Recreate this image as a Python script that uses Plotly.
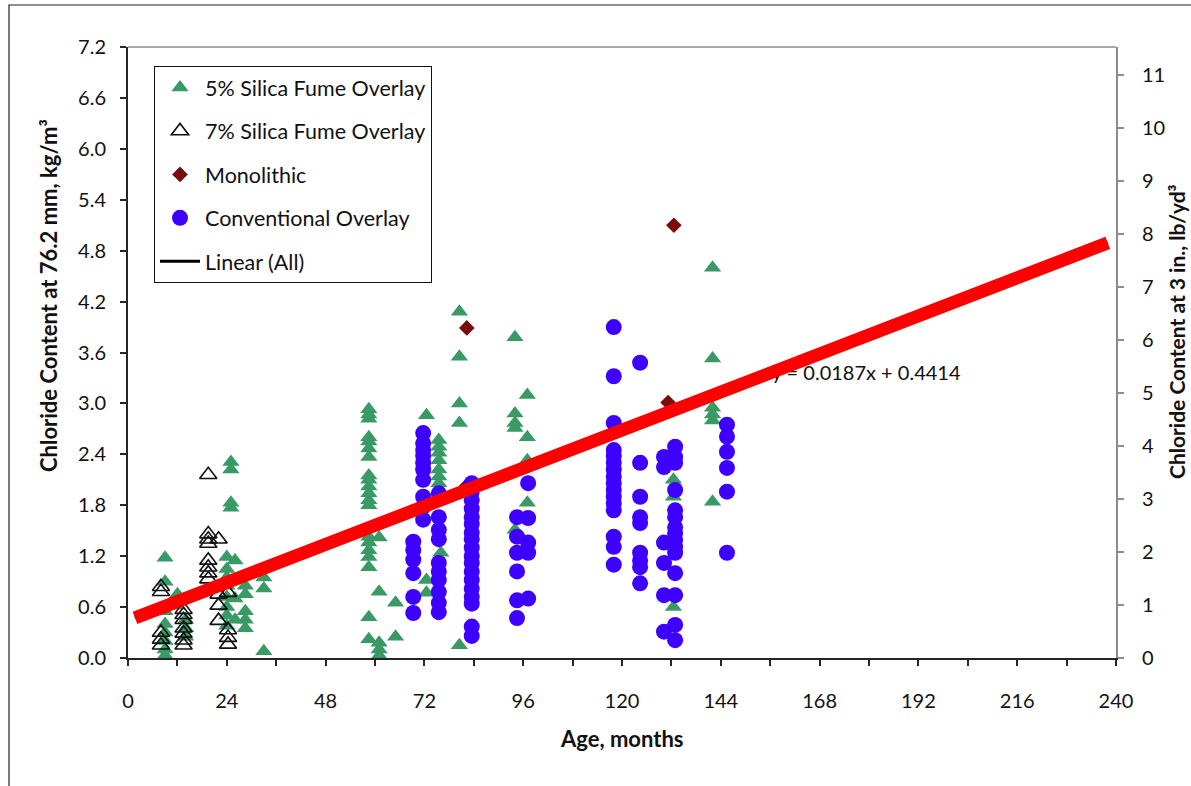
import plotly.graph_objects as go

# ---------------- data ----------------
sf5_age = [9, 9, 9, 9, 9, 9, 9, 9, 9,
           12, 12,
           14, 14, 14,
           24, 24, 24, 24, 24, 24, 24, 24,
           25, 25, 25, 25,
           26, 26, 26,
           28.5, 28.5, 28.5, 28.5, 28.5,
           33, 33, 33,
           58.5, 58.5, 58.5, 58.5, 58.5, 58.5, 58.5, 58.5, 58.5, 58.5,
           58.5, 58.5, 58.5, 58.5, 58.5, 58.5, 58.5, 58.5, 58.5, 58.5,
           61, 61, 61, 61, 61, 61,
           65, 65,
           72.5, 72.5, 72.5,
           75.5, 75.5, 75.5, 75.5, 75.5, 75.5, 75.5,
           76,
           80.5, 80.5, 80.5, 80.5, 80.5,
           94, 94, 94, 94, 94,
           97, 97, 97, 97,
           132.5, 132.5, 132.5,
           142, 142, 142, 142, 142, 142]
sf5_cl = [1.18, 0.90, 0.55, 0.40, 0.30, 0.20, 0.10, 0.03, 0.00,
          0.75, 0.62,
          0.45, 0.35, 0.25,
          1.19, 1.05, 0.95, 0.85, 0.72, 0.60, 0.50, 0.38,
          2.31, 2.22, 1.83, 1.77,
          1.15, 0.70, 0.45,
          0.85, 0.75, 0.55, 0.45, 0.35,
          0.95, 0.82, 0.08,
          2.93, 2.87, 2.82, 2.60, 2.55, 2.47, 2.37, 2.15, 2.10, 2.02,
          1.94, 1.86, 1.80, 1.43, 1.36, 1.27, 1.19, 1.07, 0.48, 0.22,
          1.42, 0.78, 0.18, 0.10, 0.03, 0.00,
          0.65, 0.25,
          2.86, 0.92, 0.77,
          2.57, 2.49, 2.42, 2.33, 2.22, 2.14, 2.06,
          1.24,
          4.08, 3.55, 3.00, 2.77, 0.15,
          3.78, 2.88, 2.77, 2.71, 1.51,
          3.10, 2.60, 2.33, 1.83,
          2.10, 1.90, 0.60,
          4.60, 3.53, 2.95, 2.87, 2.80, 1.84]

sf7_age = [8, 8, 8, 8, 8,
           13.5, 13.5, 13.5, 13.5, 13.5, 13.5, 13.5,
           19.5, 19.5, 19.5, 19.5, 19.5, 19.5, 19.5, 19.5,
           22, 22, 22, 22,
           24.3, 24.3, 24.3, 24.3]
sf7_cl = [0.84, 0.78, 0.30, 0.22, 0.15,
          0.57, 0.51, 0.45, 0.35, 0.29, 0.21, 0.15,
          2.16, 1.46, 1.40, 1.35, 1.15, 1.07, 1.00, 0.93,
          1.40, 0.75, 0.62, 0.44,
          0.77, 0.33, 0.24, 0.16]

mono_age = [82.3, 82.3, 131.2, 132.6]
mono_cl = [3.89, 2.03, 3.01, 5.10]

conv_age = [69.3, 69.3, 69.3, 69.3, 69.3, 69.3,
            71.7, 71.7, 71.7, 71.7, 71.7, 71.7, 71.7, 71.7, 71.7, 71.7,
            75.5, 75.5, 75.5, 75.5, 75.5, 75.5, 75.5, 75.5, 75.5, 75.5,
            83.5, 83.5, 83.5, 83.5, 83.5, 83.5, 83.5, 83.5, 83.5,
            83.5, 83.5, 83.5, 83.5, 83.5, 83.5, 83.5, 83.5, 83.5,
            94.5, 94.5, 94.5, 94.5, 94.5, 94.5,
            97.2, 97.2, 97.2, 97.2, 97.2,
            118, 118, 118, 118, 118, 118, 118, 118,
            118, 118, 118, 118, 118, 118, 118, 118,
            124.4, 124.4, 124.4, 124.4, 124.4, 124.4, 124.4, 124.4, 124.4,
            130.2, 130.2, 130.2, 130.2, 130.2, 130.2,
            132.9, 132.9, 132.9, 132.9, 132.9, 132.9, 132.9, 132.9,
            132.9, 132.9, 132.9, 132.9, 132.9, 132.9, 132.9,
            145.5, 145.5, 145.5, 145.5, 145.5, 145.5]
conv_cl = [1.37, 1.27, 1.16, 1.00, 0.72, 0.53,
           2.65, 2.53, 2.45, 2.38, 2.30, 2.22, 2.10, 1.90, 1.78, 1.63,
           1.94, 1.66, 1.51, 1.40, 1.12, 1.02, 0.92, 0.78, 0.65, 0.54,
           2.06, 1.96, 1.86, 1.76, 1.66, 1.58, 1.48, 1.40, 1.30,
           1.20, 1.12, 1.02, 0.92, 0.82, 0.72, 0.64, 0.37, 0.26,
           1.66, 1.43, 1.24, 1.02, 0.68, 0.47,
           2.06, 1.65, 1.36, 1.24, 0.70,
           3.90, 3.32, 2.77, 2.45, 2.38, 2.30, 2.22, 2.14,
           2.06, 1.98, 1.90, 1.82, 1.74, 1.43, 1.31, 1.10,
           3.48, 2.30, 1.90, 1.66, 1.59, 1.24, 1.15, 1.07, 0.88,
           2.37, 2.25, 1.36, 1.12, 0.74, 0.31,
           2.49, 2.37, 2.30, 1.98, 1.74, 1.66, 1.54, 1.47,
           1.39, 1.31, 1.24, 1.00, 0.74, 0.39, 0.21,
           2.75, 2.61, 2.43, 2.24, 1.96, 1.24]

# linear fit of all data, as printed on the chart
slope = 0.0187
intercept = 0.4414
trend_age = [1.7, 238]
trend_cl = [slope * a + intercept for a in trend_age]
eq_text = "y = 0.0187x + 0.4414"
eq_pos = (179.3, 3.33)

x_range = [0, 240]
y_range = [0, 7.2]
y2_range = [0, 11.52]

# ---------------- styling ----------------
FONT = "Lato, 'Open Sans', sans-serif"
AX = "#262626"
GRAY = "#8c8c8c"

fig = go.Figure()

fig.add_trace(go.Scatter(
    x=sf5_age, y=sf5_cl, mode="markers", name="5% Silica Fume Overlay",
    legendgroup="a",
    marker=dict(symbol="triangle-up", size=15, color="#3a9a66", line=dict(width=0))))
fig.add_trace(go.Scatter(
    x=sf7_age, y=sf7_cl, mode="markers", name="7% Silica Fume Overlay",
    legendgroup="b",
    marker=dict(symbol="triangle-up-open", size=15, color="#111111",
                line=dict(width=1.6, color="#111111"))))
fig.add_trace(go.Scatter(
    x=mono_age, y=mono_cl, mode="markers", name="Monolithic",
    legendgroup="c",
    marker=dict(symbol="diamond", size=12, color="#7b0a0a", line=dict(width=0))))
fig.add_trace(go.Scatter(
    x=conv_age, y=conv_cl, mode="markers", name="Conventional Overlay",
    legendgroup="d",
    marker=dict(symbol="circle", size=16, color="#3d00ff", line=dict(width=0))))
fig.add_trace(go.Scatter(
    x=[eq_pos[0]], y=[eq_pos[1]], mode="text", text=[eq_text],
    textposition="middle center", showlegend=False, hoverinfo="skip",
    textfont=dict(family=FONT, size=20, color="#111111")))
fig.add_trace(go.Scatter(
    x=trend_age, y=trend_cl, mode="lines", name="Linear (All)",
    legendgroup="e", line=dict(color="#000000", width=3)))
fig.add_trace(go.Scatter(
    x=trend_age, y=trend_cl, mode="lines", showlegend=False, hoverinfo="skip",
    line=dict(color="#ff0000", width=13)))
# secondary axis carrier (invisible)
fig.add_trace(go.Scatter(
    x=[0], y=[0], yaxis="y2", mode="markers", showlegend=False, hoverinfo="skip",
    marker=dict(opacity=0)))

L, R, T, B = 128, 75, 47, 128
W, H = 1191, 786
pw, ph = W - L - R, H - T - B

def px(xp):
    return (xp - L) / pw

def py(yp):
    return (H - B - yp) / ph

fig.update_layout(
    width=W, height=H,
    margin=dict(l=L, r=R, t=T, b=B, pad=0),
    paper_bgcolor="white", plot_bgcolor="white",
    font=dict(family=FONT, size=20, color="#111111"),
    showlegend=True,
    legend=dict(x=px(154), y=py(66), xanchor="left", yanchor="top",
                bgcolor="white", bordercolor="#111111", borderwidth=1,
                font=dict(family=FONT, size=21.5, color="#111111"),
                tracegroupgap=12.5, itemwidth=40, traceorder="grouped"),
    xaxis=dict(range=x_range, dtick=24, tick0=0, ticks="outside", ticklen=6,
               tickwidth=1.5, tickcolor=AX, showline=True, linecolor=AX, linewidth=2,
               showgrid=False, zeroline=False, automargin=False,
               tickfont=dict(family=FONT, size=20, color="#111111"),
               ticklabelstandoff=18,
               minor=dict(dtick=12, tick0=0, ticks="outside", ticklen=6,
                          tickwidth=1.5, tickcolor=AX, showgrid=False)),
    yaxis=dict(range=y_range, dtick=0.6, tick0=0, tickformat=".1f",
               ticks="outside", ticklen=6, tickwidth=1.5, tickcolor=AX,
               showline=True, linecolor=AX, linewidth=2, showgrid=False,
               zeroline=False, automargin=False, ticklabelstandoff=10,
               tickfont=dict(family=FONT, size=20, color="#111111")),
    yaxis2=dict(range=y2_range, dtick=1, tick0=0, overlaying="y", side="right",
                ticks="outside", ticklen=6, tickwidth=1.5, tickcolor=GRAY,
                showline=True, linecolor=GRAY, linewidth=2, showgrid=False,
                zeroline=False, automargin=False, ticklabelstandoff=14,
                tickfont=dict(family=FONT, size=20, color="#111111")),
    shapes=[
        dict(type="line", xref="paper", yref="paper", x0=0, x1=1, y0=1, y1=1,
             line=dict(color=GRAY, width=1.5)),
        dict(type="rect", xref="paper", yref="paper", x0=px(9), x1=1.3,
             y0=-0.5, y1=py(5), line=dict(color="#222222", width=1.2),
             fillcolor="rgba(0,0,0,0)", layer="below"),
    ],
    annotations=[
        dict(text="<b>Chloride Content at 76.2 mm, kg/m³</b>", xref="paper", yref="paper",
             x=px(48), y=py(296), textangle=-90, showarrow=False,
             xanchor="center", yanchor="middle",
             font=dict(family=FONT, size=22, color="#111111")),
        dict(text="<b>Chloride Content at 3 in., lb/yd³</b>", xref="paper", yref="paper",
             x=px(1176), y=py(332), textangle=-90, showarrow=False,
             xanchor="center", yanchor="middle",
             font=dict(family=FONT, size=21, color="#111111")),
        dict(text="<b>Age, months</b>", xref="paper", yref="paper",
             x=0.5, y=py(738), showarrow=False, xanchor="center", yanchor="middle",
             font=dict(family=FONT, size=22, color="#111111")),
    ],
)

fig.write_html("out.html")
